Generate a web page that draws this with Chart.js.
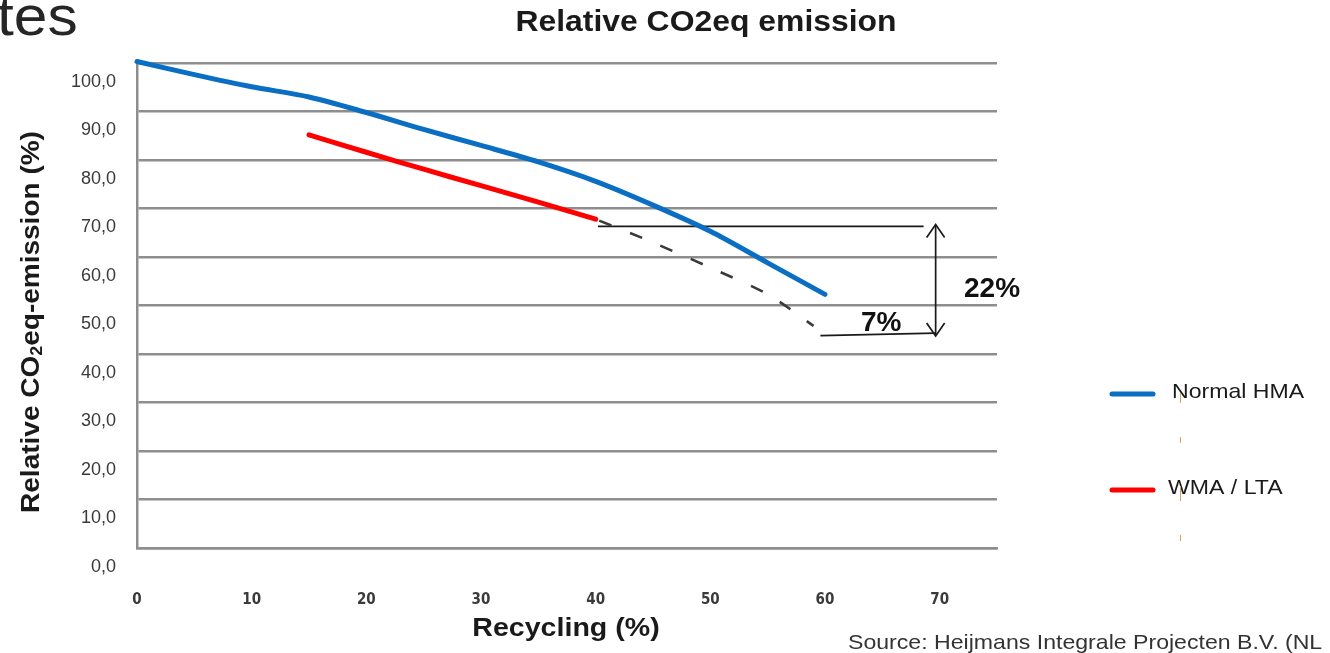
<!DOCTYPE html>
<html>
<head>
<meta charset="utf-8">
<script src="https://cdn.jsdelivr.net/npm/chart.js@4/dist/chart.umd.min.js"></script>
<style>
  html, body { margin: 0; padding: 0; background: #ffffff; }
  #wrap { position: relative; width: 1330px; height: 653px; }
</style>
</head>
<body>
<div id="wrap"><canvas id="c" width="1330" height="653"></canvas></div>
<script>
// Recycling share (%) on the x axis
const recyclingPct = [0, 5, 10, 15, 20, 25, 30, 35, 40, 45, 50, 55, 60];
// Relative CO2eq emission (%) for normal hot mix asphalt
const normalHMA = [100.3, 97.6, 95.1, 93.0, 89.8, 86.3, 83.0, 79.6, 75.6, 70.7, 65.3, 58.8, 52.3];
// Warm / low-temperature asphalt, measured part
const wmaPct = [15, 20, 25, 30, 35, 40];
const wmaLTA = [85.2, 81.6, 78.1, 74.7, 71.3, 67.8];
// Warm / low-temperature asphalt, extrapolated part
const wmaExtPct = [40, 45, 50, 55, 59];
const wmaExt = [67.8, 63.0, 57.8, 52.3, 45.8];
// Reference levels of the comparison bracket
const bracketTop = 66.3;
const bracketBottom = 43.9;
const bracketX = 69.65;
const bracketLabels = ['22%', '7%'];
// Axis ticks
const xTicks = [0, 10, 20, 30, 40, 50, 60, 70];
const yTicks = [0, 10, 20, 30, 40, 50, 60, 70, 80, 90, 100];
const seriesNames = ['Normal HMA', 'WMA / LTA'];

const BLUE = '#0a6fc2';
const RED = '#ff0000';
const GRID = '#8e8e8e';
const FONT = '"Liberation Sans", Arial, sans-serif';
const WIDEN = 1.1; // horizontal stretch of the slide text

const pts = (xs, ys) => xs.map((v, i) => ({ x: v, y: ys[i] }));

function wideText(ctx, text, x, y, align, sx) {
  ctx.save();
  ctx.translate(x, y);
  ctx.scale(sx || WIDEN, 1);
  ctx.textAlign = align;
  ctx.fillText(text, 0, 0);
  ctx.restore();
}

const decor = {
  id: 'decor',
  afterDraw(chart) {
    const ctx = chart.ctx;
    const sx = chart.scales.x, sy = chart.scales.y;
    ctx.save();

    // arrow heads of the bracket
    const ax = sx.getPixelForValue(bracketX);
    const yt = sy.getPixelForValue(bracketTop) - 2;
    const yb = sy.getPixelForValue(bracketBottom) + 1;
    ctx.strokeStyle = '#1a1a1a';
    ctx.lineWidth = 1.7;
    ctx.beginPath();
    ctx.moveTo(ax - 9, yt + 13); ctx.lineTo(ax, yt); ctx.lineTo(ax + 9, yt + 13);
    ctx.moveTo(ax - 9, yb - 13); ctx.lineTo(ax, yb); ctx.lineTo(ax + 9, yb - 13);
    ctx.stroke();

    // bracket labels
    ctx.fillStyle = '#111111';
    ctx.font = 'bold 28px ' + FONT;
    ctx.textBaseline = 'middle';
    wideText(ctx, bracketLabels[0], 964, 289, 'left', 1.0);
    wideText(ctx, bracketLabels[1], 861, 323, 'left', 1.0);

    // chart title
    ctx.fillStyle = '#1a1a1a';
    ctx.font = 'bold 29px ' + FONT;
    wideText(ctx, 'Relative CO2eq emission', 706, 23, 'center');

    // x axis title
    ctx.font = 'bold 26px ' + FONT;
    wideText(ctx, 'Recycling (%)', 566, 629, 'center');

    // y axis title (rotated, with subscript 2)
    ctx.save();
    ctx.translate(32, 322);
    ctx.rotate(-Math.PI / 2);
    ctx.scale(1.12, 1);
    const big = 'bold 25px ' + FONT, small = 'bold 16px ' + FONT;
    const p1 = 'Relative CO', p2 = '2', p3 = 'eq-emission (%)';
    ctx.font = big; const w1 = ctx.measureText(p1).width, w3 = ctx.measureText(p3).width;
    ctx.font = small; const w2 = ctx.measureText(p2).width;
    let x0 = -(w1 + w2 + w3) / 2;
    ctx.textAlign = 'left';
    ctx.font = big; ctx.fillText(p1, x0, 0); x0 += w1;
    ctx.font = small; ctx.fillText(p2, x0, 6); x0 += w2;
    ctx.font = big; ctx.fillText(p3, x0, 0);
    ctx.restore();

    // legend
    const legend = [
      { color: BLUE, text: seriesNames[0], y: 393, tx: 1172 },
      { color: RED, text: seriesNames[1], y: 489, tx: 1168 }
    ];
    ctx.font = '21px ' + FONT;
    ctx.textBaseline = 'middle';
    legend.forEach(l => {
      ctx.lineCap = 'round';
      ctx.strokeStyle = l.color;
      ctx.lineWidth = 5;
      ctx.beginPath(); ctx.moveTo(1112, l.y + 1); ctx.lineTo(1153, l.y + 1); ctx.stroke();
      ctx.fillStyle = '#1a1a1a';
      wideText(ctx, l.text, l.tx, l.y - 1, 'left');
    });
    // small marker ticks beside the legend
    ctx.strokeStyle = '#d9a060';
    ctx.lineWidth = 1;
    ctx.lineCap = 'butt';
    [[393, 403], [437, 443], [486, 501], [535, 541]].forEach(([a, b]) => {
      ctx.beginPath(); ctx.moveTo(1180.5, a); ctx.lineTo(1180.5, b); ctx.stroke();
    });

    // leftover slide heading and source line
    ctx.fillStyle = '#262626';
    ctx.font = '55px ' + FONT;
    ctx.textBaseline = 'alphabetic';
    wideText(ctx, 'tes', -3, 35, 'left');
    ctx.fillStyle = '#333333';
    ctx.font = '21px ' + FONT;
    wideText(ctx, 'Source: Heijmans Integrale Projecten B.V. (NL', 848, 649, 'left');

    ctx.restore();
  }
};

new Chart(document.getElementById('c'), {
  type: 'line',
  data: {
    datasets: [
      { label: seriesNames[0], data: pts(recyclingPct, normalHMA), borderColor: BLUE, borderWidth: 5,
        tension: 0.3, borderCapStyle: 'round', borderJoinStyle: 'round', pointRadius: 0, clip: 6 },
      { label: seriesNames[1], data: pts(wmaPct, wmaLTA), borderColor: RED, borderWidth: 5,
        tension: 0.3, borderCapStyle: 'round', borderJoinStyle: 'round', pointRadius: 0 },
      { label: 'WMA / LTA (extrapolated)', data: pts(wmaExtPct, wmaExt), borderColor: '#3a3a3a', borderWidth: 2.5,
        borderDash: [13, 20], borderDashOffset: -4, tension: 0.3, pointRadius: 0 },
      { label: 'top level', data: [{ x: 40.2, y: bracketTop }, { x: 68.6, y: bracketTop }],
        borderColor: '#1a1a1a', borderWidth: 1.7, pointRadius: 0 },
      { label: 'bottom level', data: [{ x: 59.6, y: bracketBottom - 0.1 }, { x: bracketX, y: bracketBottom + 0.4 }],
        borderColor: '#1a1a1a', borderWidth: 1.7, pointRadius: 0 },
      { label: 'bracket', data: [{ x: bracketX, y: bracketTop + 0.3 }, { x: bracketX, y: bracketBottom }],
        borderColor: '#1a1a1a', borderWidth: 1.7, pointRadius: 0 }
    ]
  },
  options: {
    responsive: false,
    animation: false,
    events: [],
    layout: { padding: { left: 0, top: 63, right: 333, bottom: 0 } },
    plugins: { legend: { display: false }, title: { display: false }, tooltip: { enabled: false } },
    scales: {
      x: {
        type: 'linear', min: 0, max: 75,
        afterFit(s) { s.height = 105; },
        afterBuildTicks(s) { s.ticks = xTicks.map(v => ({ value: v })); },
        grid: { display: false },
        border: { display: true, color: GRID, width: 2.5 },
        ticks: { padding: 35, color: '#3a3a3a', font: { family: '"DejaVu Sans Condensed", "Liberation Sans Narrow", Arial', size: 15, weight: 'bold' },
          maxRotation: 0, autoSkip: false }
      },
      y: {
        min: 0, max: 100,
        afterFit(s) { s.width = 137; },
        afterBuildTicks(s) { s.ticks = yTicks.map(v => ({ value: v })); },
        grid: { color: GRID, lineWidth: 2.5, drawTicks: false },
        border: { display: true, color: GRID, width: 2.5 },
        ticks: { padding: 21, labelOffset: 19, color: '#3a3a3a', font: { family: FONT, size: 18 },
          callback: v => v.toFixed(1).replace('.', ',') }
      }
    }
  },
  plugins: [decor]
});
</script>
</body>
</html>
